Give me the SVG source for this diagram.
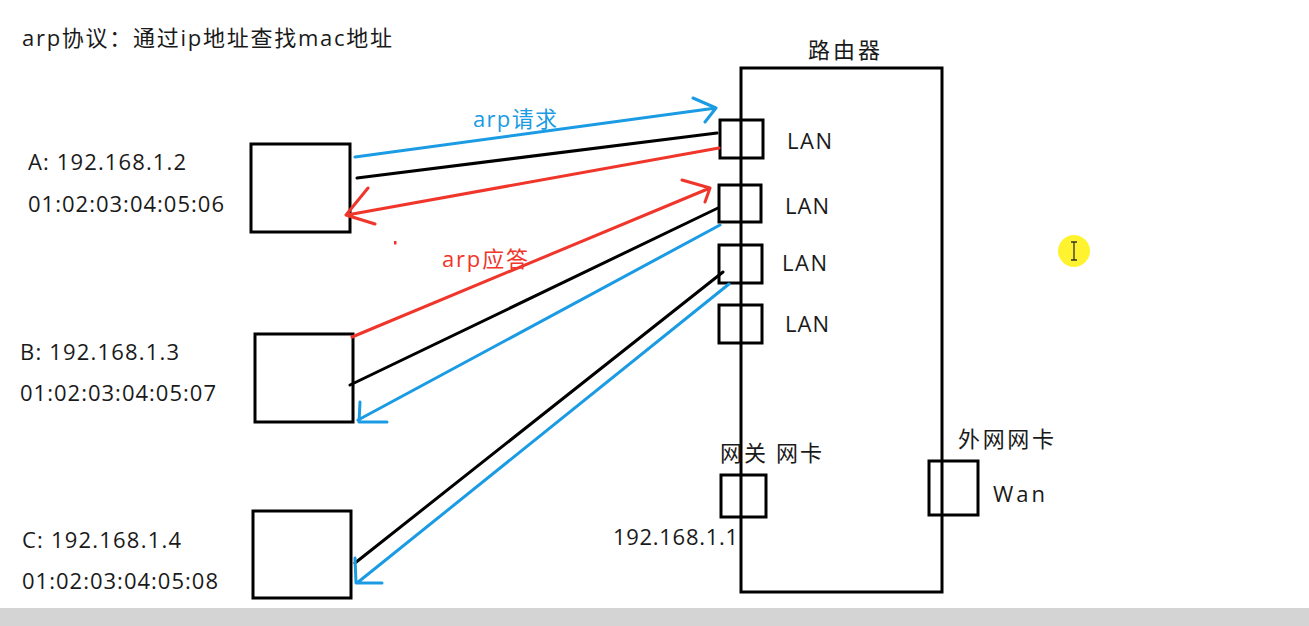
<svg xmlns="http://www.w3.org/2000/svg" width="1309" height="626" viewBox="0 0 1309 626">
<style>
text{font-family:"Open Sans","Noto Sans CJK SC",sans-serif;fill:#1a1a1a;font-size:22px}
.box{fill:none;stroke:#000;stroke-width:3}
.blk{stroke:#000;stroke-width:3;fill:none;stroke-linecap:round}
.blu{stroke:#1a9be3;stroke-width:3;fill:none;stroke-linecap:round;stroke-linejoin:round}
.red{stroke:#f0352b;stroke-width:3;fill:none;stroke-linecap:round;stroke-linejoin:round}
</style>
<rect width="1309" height="626" fill="#fff"/>
<rect x="0" y="608" width="1309" height="18" fill="#d4d4d4"/>
<text x="22" y="46" textLength="370" font-size="22">arp协议：通过ip地址查找mac地址</text>

<g id="router">
<rect class="box" x="741" y="68" width="201" height="524"/>
<text x="808" y="58" textLength="72" font-size="23">路由器</text>
</g>
<g id="lan1"><rect class="box" x="720" y="120" width="43" height="38"/><text x="787" y="149" textLength="45">LAN</text></g>
<g id="lan2"><rect class="box" x="719" y="185" width="42" height="37"/><text x="785" y="214" textLength="44">LAN</text></g>
<g id="lan3"><rect class="box" x="719" y="245" width="43" height="38"/><text x="782" y="271" textLength="45">LAN</text></g>
<g id="lan4"><rect class="box" x="719" y="305" width="43" height="38"/><text x="785" y="332" textLength="44">LAN</text></g>
<g id="gateway"><rect class="box" x="721" y="475" width="45" height="42"/><text x="720" y="461" textLength="102">网关 网卡</text><text x="613" y="545" textLength="125">192.168.1.1</text></g>
<g id="wan"><rect class="box" x="929" y="461" width="49" height="54"/><text x="958" y="447" textLength="96">外网网卡</text><text x="993" y="502" textLength="52">Wan</text></g>

<g id="hostA"><rect class="box" x="251" y="144" width="99" height="88"/><text x="28" y="170" textLength="158">A: 192.168.1.2</text><text x="28" y="212" textLength="196">01:02:03:04:05:06</text></g>
<g id="hostB"><rect class="box" x="255" y="334" width="98" height="88"/><text x="20" y="360" textLength="159">B: 192.168.1.3</text><text x="20" y="401" textLength="196">01:02:03:04:05:07</text></g>
<g id="hostC"><rect class="box" x="253" y="511" width="98" height="87"/><text x="22" y="548" textLength="159">C: 192.168.1.4</text><text x="22" y="589" textLength="196">01:02:03:04:05:08</text></g>

<g id="connectors">
<path class="blu" d="M355 157 L716 108 M693 98 L716 108 L705 122"/>
<path class="blk" d="M357 178 L717 133"/>
<path class="red" d="M719 148 L347 215 M368 188 L346 215 L375 224"/>
<path class="red" d="M352 337 L710 188 M682 180 L710 188 L705 202"/>
<path class="blk" d="M350 385 L718 208"/>
<path class="blu" d="M720 225 L358 420 M360 402 L359 422 L387 422"/>
<path class="blk" d="M355 563 L723 272"/>
<path class="blu" d="M729 284 L357 583 M355 558 L356 583 L382 583"/>
<rect x="394" y="241" width="2.5" height="3.5" fill="#f0352b"/>
<text x="473" y="127" textLength="84" font-size="20" style="fill:#1a9be3">arp请求</text>
<text x="442" y="267" textLength="86" font-size="20" style="fill:#f0352b">arp应答</text>
</g>

<g id="cursor">
<circle cx="1074" cy="251" r="16" fill="#fff21a" opacity="0.9"/>
<path d="M1071 242 H1077 M1074 242 V260 M1071 260 H1077" stroke="#333" stroke-width="1.3" fill="none"/>
</g>
</svg>
